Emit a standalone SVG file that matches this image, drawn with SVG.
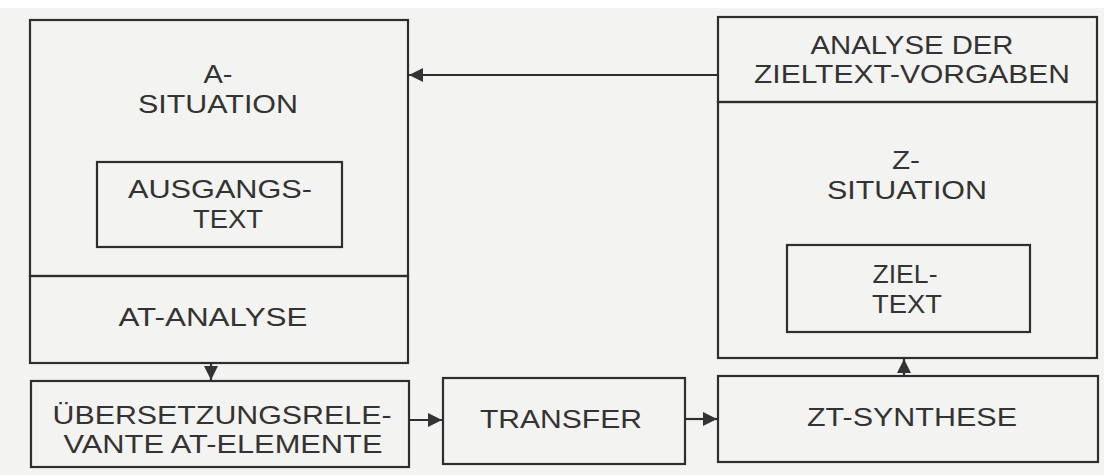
<svg xmlns="http://www.w3.org/2000/svg" width="1104" height="475" viewBox="0 0 1104 475">
<defs>
<style>
.bx{fill:none;stroke:#2e2e2e;stroke-width:2.2}
.t{font-family:"Liberation Sans",Arial,sans-serif;font-size:26px;fill:#333;text-anchor:middle}
.ln{stroke:#2e2e2e;stroke-width:2.2;fill:none}
</style>
<marker id="ah" viewBox="0 0 10 10" refX="10" refY="5" markerWidth="18" markerHeight="14" markerUnits="userSpaceOnUse" orient="auto">
<path d="M0,0 L10,5 L0,10 Z" fill="#333"/>
</marker>
</defs>
<rect x="0" y="0" width="1104" height="475" fill="#ffffff"/>
<rect x="0" y="8" width="1104" height="467" fill="#f3f3f1"/>

<g id="a-situation">
<rect class="bx" x="30" y="20" width="378" height="256"/>
<text class="t" x="218" y="83" textLength="29" lengthAdjust="spacingAndGlyphs">A-</text>
<text class="t" x="218" y="113" textLength="160" lengthAdjust="spacingAndGlyphs">SITUATION</text>
</g>
<g id="ausgangstext">
<rect class="bx" x="97" y="162" width="245" height="85"/>
<text class="t" x="220" y="198" textLength="184" lengthAdjust="spacingAndGlyphs">AUSGANGS-</text>
<text class="t" x="228" y="228" textLength="70" lengthAdjust="spacingAndGlyphs">TEXT</text>
</g>
<g id="at-analyse">
<rect class="bx" x="30" y="276" width="378" height="87"/>
<text class="t" x="213" y="326" textLength="189" lengthAdjust="spacingAndGlyphs">AT-ANALYSE</text>
</g>
<g id="uebersetzungsrelevante">
<rect class="bx" x="31" y="381" width="378" height="86"/>
<text class="t" x="222" y="424" textLength="339" lengthAdjust="spacingAndGlyphs">ÜBERSETZUNGSRELE-</text>
<text class="t" x="223" y="453" textLength="319" lengthAdjust="spacingAndGlyphs">VANTE AT-ELEMENTE</text>
</g>
<g id="transfer">
<rect class="bx" x="443" y="378" width="242" height="86"/>
<text class="t" x="561" y="428" textLength="162" lengthAdjust="spacingAndGlyphs">TRANSFER</text>
</g>
<g id="zieltext-vorgaben">
<rect class="bx" x="718" y="17" width="379" height="85"/>
<text class="t" x="912" y="54" textLength="203" lengthAdjust="spacingAndGlyphs">ANALYSE DER</text>
<text class="t" x="912" y="83" textLength="316" lengthAdjust="spacingAndGlyphs">ZIELTEXT-VORGABEN</text>
</g>
<g id="z-situation">
<rect class="bx" x="718" y="102" width="379" height="256"/>
<text class="t" x="906" y="169" textLength="28" lengthAdjust="spacingAndGlyphs">Z-</text>
<text class="t" x="907" y="199" textLength="160" lengthAdjust="spacingAndGlyphs">SITUATION</text>
</g>
<g id="zieltext">
<rect class="bx" x="787" y="245" width="243" height="87"/>
<text class="t" x="905" y="283" textLength="65" lengthAdjust="spacingAndGlyphs">ZIEL-</text>
<text class="t" x="907" y="313" textLength="70" lengthAdjust="spacingAndGlyphs">TEXT</text>
</g>
<g id="zt-synthese">
<rect class="bx" x="718" y="376" width="380" height="86"/>
<text class="t" x="912" y="426" textLength="210" lengthAdjust="spacingAndGlyphs">ZT-SYNTHESE</text>
</g>

<g id="connectors">
<line class="ln" x1="718" y1="75" x2="409" y2="75" marker-end="url(#ah)"/>
<line class="ln" x1="211" y1="363" x2="211" y2="380" marker-end="url(#ah)"/>
<line class="ln" x1="409" y1="420" x2="442" y2="420" marker-end="url(#ah)"/>
<line class="ln" x1="685" y1="419" x2="717" y2="419" marker-end="url(#ah)"/>
<line class="ln" x1="904" y1="376" x2="904" y2="359" marker-end="url(#ah)"/>
</g>
</svg>
